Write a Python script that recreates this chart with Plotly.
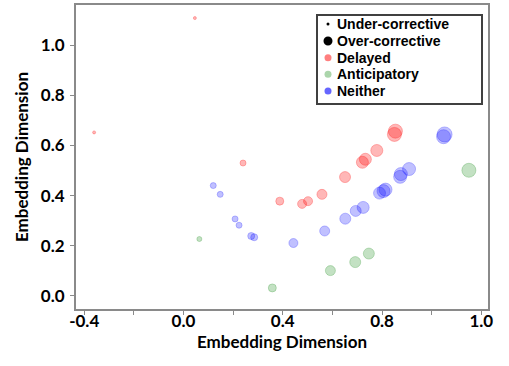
import plotly.graph_objects as go

# Delayed (red)
delayed_x = [0.046, -0.36, 0.24, 0.388, 0.478, 0.502, 0.558, 0.651, 0.721, 0.733, 0.779, 0.850, 0.854]
delayed_y = [1.108, 0.652, 0.530, 0.378, 0.367, 0.378, 0.405, 0.474, 0.533, 0.545, 0.580, 0.644, 0.657]
delayed_mag = [3, 3, 6, 8, 9, 9, 10, 11, 12, 12, 12, 14, 14]

# Anticipatory (green)
antic_x = [0.064, 0.358, 0.592, 0.692, 0.747, 1.150]
antic_y = [0.227, 0.032, 0.101, 0.135, 0.169, 0.501]
antic_mag = [5, 8, 10, 11, 11, 14]

# Neither (blue)
neither_x = [0.120, 0.148, 0.208, 0.224, 0.273, 0.285, 0.443, 0.569, 0.652, 0.694, 0.724,
             0.790, 0.806, 0.814, 0.873, 0.876, 0.909, 1.048, 1.052]
neither_y = [0.440, 0.405, 0.307, 0.282, 0.239, 0.234, 0.211, 0.259, 0.308, 0.339, 0.353,
             0.410, 0.418, 0.424, 0.475, 0.486, 0.506, 0.635, 0.644]
neither_mag = [6, 6, 6, 6, 7, 7, 9, 10, 11, 11, 12, 12, 13, 13, 13, 13, 13, 14, 15]

x_tickvals = [-0.4, -0.2, 0.0, 0.2, 0.4, 0.6, 0.8, 1.0, 1.2]
x_ticktext = ["-0.4", "", "0.0", "", "0.4", "", "0.8", "", "1.0"]
y_tickvals = [0.0, 0.2, 0.4, 0.6, 0.8, 1.0]
y_ticktext = ["0.0", "0.2", "0.4", "0.6", "0.8", "1.0"]

legend_labels = ["Under-corrective", "Over-corrective", "Delayed", "Anticipatory", "Neither"]

RED = "rgba(255,0,0,0.4)"
GREEN = "rgba(0,128,0,0.33)"
BLUE = "rgba(0,0,255,0.35)"

W, H = 509, 366
ML, MR, MT, MB = 76, 21, 5, 57
PW, PH = W - ML - MR, H - MT - MB


def px_x(p):
    return (p - ML) / PW


def px_y(p):
    return 1 - (p - MT) / PH


fig = go.Figure()

for name, xs, ys, ms, col in [("Delayed", delayed_x, delayed_y, delayed_mag, RED),
                              ("Anticipatory", antic_x, antic_y, antic_mag, GREEN),
                              ("Neither", neither_x, neither_y, neither_mag, BLUE)]:
    fig.add_trace(go.Scatter(
        x=xs, y=ys, mode="markers", showlegend=False, name=name,
        marker=dict(size=ms, color=col, line=dict(width=1, color=col))))

# Manual legend (box, markers, labels)
legend_marker = [(3, "black"), (9, "black"), (7, "rgba(255,0,0,0.5)"),
                 (7, "rgba(0,128,0,0.33)"), (7, "rgba(0,0,255,0.6)")]
fig.add_shape(type="rect", xref="paper", yref="paper",
              x0=px_x(317), x1=px_x(482), y0=px_y(104), y1=px_y(15),
              line=dict(color="#404040", width=2), fillcolor="white", layer="above")
row_y = [24, 41, 57.7, 74.3, 91]
for lab, (s, c), yc in zip(legend_labels, legend_marker, row_y):
    fig.add_shape(type="circle", xref="paper", yref="paper",
                  xsizemode="pixel", ysizemode="pixel",
                  xanchor=px_x(328), yanchor=px_y(yc),
                  x0=-s / 2, x1=s / 2, y0=-s / 2, y1=s / 2,
                  fillcolor=c, line=dict(width=0), layer="above")
    fig.add_annotation(xref="paper", yref="paper", x=px_x(335), y=px_y(yc),
                       xanchor="left", yanchor="middle", showarrow=False, text=lab,
                       font=dict(family="Liberation Sans", size=14, color="black", weight="bold"))

axis_common = dict(
    showline=True, linecolor="#8a8a8a", linewidth=2, mirror=True,
    ticks="outside", ticklen=4, tickcolor="#8a8a8a", tickwidth=1,
    showgrid=False, zeroline=False,
    tickfont=dict(family="Lato", size=17, color="black", weight="bold"),
    title_font=dict(family="Lato", size=17, color="black", weight="bold"),
)

fig.update_xaxes(range=[-0.433, 1.227], tickvals=x_tickvals, ticktext=x_ticktext,
                 ticklabelstandoff=-8,
                 title_text="Embedding Dimension", title_standoff=4, **axis_common)
fig.update_yaxes(range=[-0.052, 1.16], tickvals=y_tickvals, ticktext=y_ticktext,
                 ticklabelstandoff=2,
                 title_text="Embedding Dimension", title_standoff=8, **axis_common)

fig.update_layout(
    width=W, height=H,
    margin=dict(l=ML, r=MR, t=MT, b=MB, autoexpand=False),
    plot_bgcolor="white", paper_bgcolor="white",
    showlegend=False,
)

fig.write_html("out.html", config={"displayModeBar": False},
               post_script="document.body.style.margin='0';")
